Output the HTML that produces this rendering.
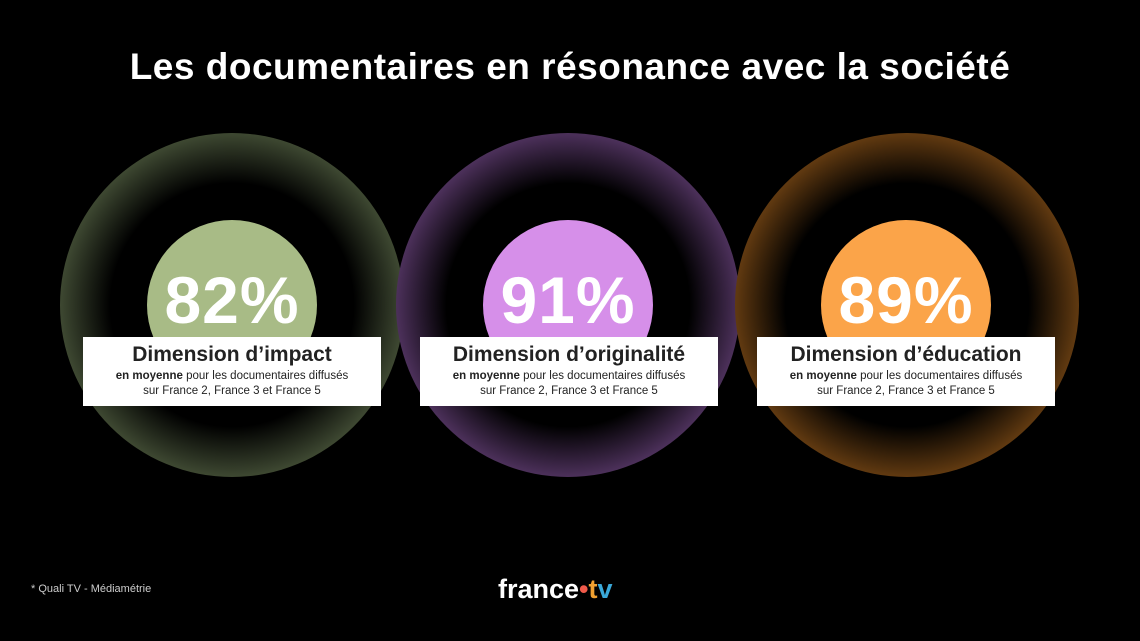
<!DOCTYPE html>
<html><head><meta charset="utf-8"><style>
body{margin:0;width:1140px;height:641px;background:#000;overflow:hidden;position:relative;font-family:"Liberation Sans",sans-serif}
.t{position:absolute;top:46px;left:0;width:1140px;text-align:center;color:#fff;font-size:37px;font-weight:bold;letter-spacing:0.5px}
.o{position:absolute;width:344px;height:344px;border-radius:50%;top:133px}
.i{position:absolute;width:170px;height:170px;border-radius:50%;top:220px}
.p{position:absolute;top:262px;width:300px;text-align:center;color:#fff;font-size:66px;font-weight:bold;letter-spacing:1px}
.b{position:absolute;top:337px;width:298px;height:69px;background:#fff;text-align:center;color:#222}
.b h{display:block;font-size:21px;font-weight:bold;margin-top:6px}
.b s{display:block;text-decoration:none;font-size:11.5px;line-height:15px;margin-top:2px}
.f{position:absolute;left:31px;top:583px;color:#ccc;font-size:11px}
.l{position:absolute;left:498px;top:574px;color:#fff;font-size:27px;font-weight:bold}
</style></head><body>
<div class="t">Les documentaires en résonance avec la société</div>
<div class="o" style="left:60px;background:radial-gradient(circle,#000 0%,#000 50%,#3c4630 70%,#5c6945 85%,#6e7c55 97%,#7d8a62 99%,rgba(125,138,98,0.3) 100%)"></div>
<div class="o" style="left:396px;background:radial-gradient(circle,#000 0%,#000 50%,#4a2f58 70%,#6a4a7c 85%,#7e5a92 97%,#9070a4 99%,rgba(144,112,164,0.3) 100%)"></div>
<div class="o" style="left:735px;background:radial-gradient(circle,#000 0%,#000 50%,#5e3810 70%,#8c541c 85%,#a46628 97%,#b07434 99%,rgba(176,116,52,0.3) 100%)"></div>
<div class="i" style="left:147px;background:#a8bb86"></div>
<div class="i" style="left:483px;background:#d68fe9"></div>
<div class="i" style="left:821px;background:#fba449"></div>
<div class="p" style="left:82px">82%</div>
<div class="p" style="left:418px">91%</div>
<div class="p" style="left:756px">89%</div>
<div class="b" style="left:83px"><h>Dimension d’impact</h><s><b>en moyenne</b> pour les documentaires diffusés<br>sur France 2, France 3 et France 5</s></div>
<div class="b" style="left:420px"><h>Dimension d’originalité</h><s><b>en moyenne</b> pour les documentaires diffusés<br>sur France 2, France 3 et France 5</s></div>
<div class="b" style="left:757px"><h>Dimension d’éducation</h><s><b>en moyenne</b> pour les documentaires diffusés<br>sur France 2, France 3 et France 5</s></div>
<div class="f">* Quali TV - Médiamétrie</div>
<div class="l">france<span style="color:#f05a4a">•</span><span style="color:#f0a030">t</span><span style="color:#3aa8d8">v</span></div>
</body></html>
